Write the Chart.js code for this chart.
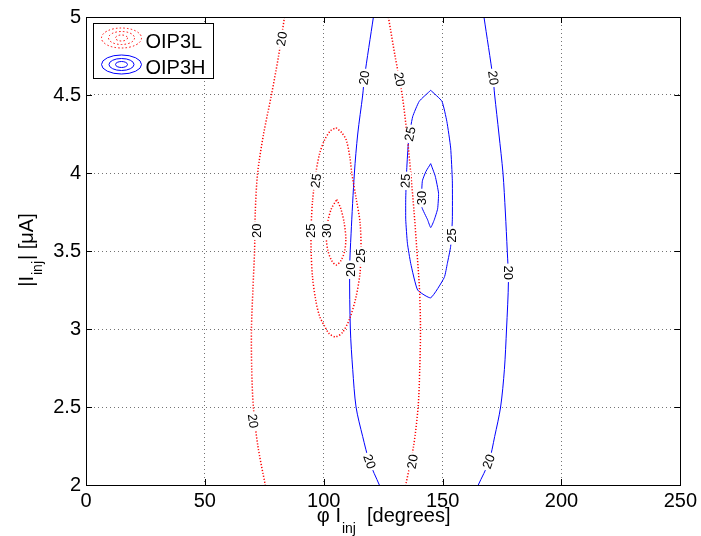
<!DOCTYPE html>
<html>
<head>
<meta charset="utf-8">
<script src="https://cdn.jsdelivr.net/npm/chart.js@4.4.0/dist/chart.umd.min.js"></script>
<style>
  html, body { margin: 0; padding: 0; background: #fff; }
  #wrap { width: 701px; height: 536px; }
</style>
</head>
<body>
<div id="wrap"><canvas id="chart" width="701" height="536"></canvas></div>
<script>
// axis ticks
const xTicks = [0, 50, 100, 150, 200, 250];
const xTickLabels = ['0', '50', '100', '150', '200', '250'];
const yTicks = [2, 2.5, 3, 3.5, 4, 4.5, 5];
const yTickLabels = ['2', '2.5', '3', '3.5', '4', '4.5', '5'];

// OIP3L contour lines, [phase, |Iinj|]
const oip3l20Left = [[83.5,5],[81,4.75],[78,4.5],[74.7,4.25],[72.2,4],[71.2,3.75],[70.9,3.5],[70.2,3.25],[69.6,3],[69.7,2.75],[70.4,2.5],[72.3,2.25],[75.4,2]];
const oip3l20Right = [[127.2,5],[130,4.75],[133,4.5],[135,4.25],[136.6,4],[138,3.75],[139.2,3.5],[140.3,3.25],[140.7,3],[140.4,2.75],[139.7,2.5],[137.8,2.25],[134.5,2]];
const oip3l25 = [[105.2,4.29],[107.5,4.26],[109.5,4.21],[111,4.1],[111.8,4],[113.6,3.84],[115.3,3.68],[115.7,3.5],[115.2,3.35],[113.5,3.2],[111,3.07],[108,2.98],[105,2.95],[102.3,2.97],[100.3,3.02],[98.3,3.08],[96.7,3.18],[95.3,3.33],[94.7,3.5],[94.7,3.65],[95.3,3.82],[96.7,4],[98.2,4.12],[100.3,4.21],[102.8,4.27],[105.2,4.29]];
const oip3l30 = [[105.5,3.83],[107.2,3.77],[108.6,3.68],[109.3,3.58],[108.8,3.5],[107.3,3.44],[105.2,3.41],[103.3,3.44],[101.8,3.5],[101.1,3.58],[101.6,3.68],[103.2,3.77],[105.5,3.83]];

// OIP3H contour lines
const oip3h20Left = [[120.9,5],[117.1,4.61],[116.4,4.5],[114.3,4.25],[112.9,4],[111.5,3.61],[110.9,3.38],[111.2,3],[112.2,2.74],[113.6,2.5],[116.4,2.31],[119.2,2.15],[123.4,2]];
const oip3h20Right = [[167.4,5],[171.2,4.61],[171.9,4.5],[173.7,4.25],[175.4,4],[176.4,3.75],[177.2,3.5],[177.7,3.31],[176.9,3],[176,2.74],[174.4,2.5],[171.9,2.31],[169.5,2.15],[165,2]];
const oip3h25 = [[145,4.53],[149.7,4.46],[151.8,4.33],[153.4,4.16],[154.1,3.95],[154.1,3.7],[153.4,3.53],[152,3.42],[150.7,3.33],[145,3.2],[139.5,3.25],[136.6,3.42],[135.2,3.55],[134.5,3.7],[134.5,3.84],[134.9,4.02],[135.7,4.21],[137.4,4.36],[140.2,4.46],[145,4.53]];
const oip3h30 = [[145,4.06],[146.9,3.98],[148.3,3.87],[147.9,3.77],[146.5,3.7],[145,3.65],[143.7,3.7],[141.3,3.78],[141.2,3.87],[141.5,3.95],[143,4.01],[145,4.06]];

// contour labels [phase, |Iinj|, level]
const oip3lLabels = [[82.4,4.86,20],[71.8,3.63,20],[70.2,2.41,20],[96.8,3.95,25],[94.7,3.63,25],[101.3,3.63,30],[115.7,3.47,25],[131.8,4.6,20],[137.4,2.15,20]];
const oip3lLabelAngles = [-80, -90, 82, -82, -90, -90, -90, 80, -80];
const oip3hLabels = [[117.1,4.61,20],[111.3,3.38,20],[119.2,2.15,20],[171.2,4.61,20],[177.7,3.36,20],[169.5,2.15,20],[136.4,4.25,25],[134.5,3.95,25],[154,3.6,25],[141.3,3.84,30]];
const oip3hLabelAngles = [-82, -90, 70, 82, 90, -70, -78, -88, -90, -90];

const FONT = '"Liberation Sans", Arial, Helvetica, sans-serif';
const RED = 'rgb(255,0,0)';
const BLUE = 'rgb(0,0,255)';

function contour(pts, color, dash, width, tension) {
    return {
        data: pts.map(p => ({ x: p[0], y: p[1] })),
        showLine: true,
        borderColor: color,
        borderWidth: width,
        borderDash: dash,
        pointRadius: 0,
        fill: false,
        tension: tension
    };
}

function drawLabels(chart, labels, angles) {
    const { ctx, scales: { x, y } } = chart;
    ctx.save();
    ctx.font = '13px ' + FONT;
    ctx.textAlign = 'center';
    ctx.textBaseline = 'middle';
    labels.forEach((l, i) => {
        const txt = String(l[2]);
        const w = ctx.measureText(txt).width;
        ctx.save();
        ctx.translate(x.getPixelForValue(l[0]), y.getPixelForValue(l[1]));
        ctx.rotate(angles[i] * Math.PI / 180);
        ctx.fillStyle = '#fff';
        ctx.fillRect(-w / 2 - 2, -5, w + 4, 10);
        ctx.fillStyle = '#000';
        ctx.fillText(txt, 0, 0.5);
        ctx.restore();
    });
    ctx.restore();
}

// Rótulos das curvas, caixa, ticks internos e legenda
const matlabLook = {
    id: 'matlabLook',
    afterDatasetsDraw(chart) {
        const { ctx, chartArea: a, scales: { x, y } } = chart;
        drawLabels(chart, oip3lLabels, oip3lLabelAngles);
        drawLabels(chart, oip3hLabels, oip3hLabelAngles);

        ctx.save();
        ctx.strokeStyle = '#000';
        ctx.lineWidth = 1;
        ctx.beginPath();
        xTicks.forEach(v => {
            const px = Math.round(x.getPixelForValue(v)) + 0.5;
            ctx.moveTo(px, a.bottom); ctx.lineTo(px, a.bottom - 6);
            ctx.moveTo(px, a.top); ctx.lineTo(px, a.top + 6);
        });
        yTicks.forEach(v => {
            const py = Math.round(y.getPixelForValue(v)) + 0.5;
            ctx.moveTo(a.left, py); ctx.lineTo(a.left + 6, py);
            ctx.moveTo(a.right, py); ctx.lineTo(a.right - 6, py);
        });
        ctx.stroke();
        ctx.strokeRect(Math.round(a.left) + 0.5, Math.round(a.top) + 0.5,
            Math.round(a.right - a.left), Math.round(a.bottom - a.top));

        // legenda
        const lx = a.left + 7.5, ly = a.top + 6.5;
        ctx.fillStyle = '#fff';
        ctx.fillRect(lx, ly, 120, 55);
        ctx.strokeRect(lx, ly, 120, 55);
        const cx = lx + 28;
        ctx.lineWidth = 1;
        ctx.strokeStyle = RED;
        ctx.setLineDash([1.5, 2.2]);
        [[20, 10], [13, 6.5], [6, 3]].forEach(r => {
            ctx.beginPath();
            ctx.ellipse(cx, ly + 14.5, r[0], r[1], 0, 0, Math.PI * 2);
            ctx.stroke();
        });
        ctx.setLineDash([]);
        ctx.strokeStyle = BLUE;
        [[20, 9.5], [12.5, 6], [6, 3]].forEach(r => {
            ctx.beginPath();
            ctx.ellipse(cx, ly + 41, r[0], r[1], 0, 0, Math.PI * 2);
            ctx.stroke();
        });
        ctx.fillStyle = '#000';
        ctx.font = '20px ' + FONT;
        ctx.textAlign = 'left';
        ctx.textBaseline = 'alphabetic';
        ctx.fillText('OIP3L', lx + 52, ly + 24);
        ctx.fillText('OIP3H', lx + 52, ly + 50.5);
        ctx.restore();
    },
    afterDraw(chart) {
        const { ctx, chartArea: a } = chart;
        ctx.save();
        ctx.fillStyle = '#000';
        ctx.textBaseline = 'alphabetic';
        ctx.textAlign = 'left';
        const big = '20px ' + FONT, small = '14px ' + FONT;

        // titulo do eixo x: φ I_inj  [degrees]
        ctx.font = big;
        const p1 = 'φ I', p3 = '  [degrees]';
        const w1 = ctx.measureText(p1).width, w3 = ctx.measureText(p3).width;
        ctx.font = small;
        const w2 = ctx.measureText('inj').width;
        let sx = (a.left + a.right) / 2 - (w1 + w2 + w3) / 2;
        ctx.font = big;
        ctx.fillText(p1, sx, 522);
        ctx.font = small;
        ctx.fillText('inj', sx + w1 + 1, 533);
        ctx.font = big;
        ctx.fillText(p3, sx + w1 + w2 + 1, 522);

        // titulo do eixo y: |I_inj| [μA]
        ctx.translate(33, (a.top + a.bottom) / 2);
        ctx.rotate(-Math.PI / 2);
        const q1 = '|I', q3 = '| [μA]';
        ctx.font = big;
        const v1 = ctx.measureText(q1).width, v3 = ctx.measureText(q3).width;
        ctx.font = small;
        const v2 = ctx.measureText('inj').width;
        sx = -(v1 + v2 + v3) / 2;
        ctx.font = big;
        ctx.fillText(q1, sx, 0);
        ctx.font = small;
        ctx.fillText('inj', sx + v1 + 1, 9);
        ctx.font = big;
        ctx.fillText(q3, sx + v1 + v2 + 2, 0);
        ctx.restore();
    }
};

const gridStyle = { color: 'rgba(0,0,0,0.55)', lineWidth: 1, drawTicks: false };
const borderStyle = { display: false, dash: [1, 3] };
const redDash = [1.2, 1.8];

new Chart(document.getElementById('chart'), {
    type: 'scatter',
    data: {
        datasets: [
            contour(oip3l20Left, RED, redDash, 1.5, 0.3),
            contour(oip3l20Right, RED, redDash, 1.5, 0.3),
            contour(oip3l25, RED, redDash, 1.5, 0.3),
            contour(oip3l30, RED, redDash, 1.5, 0.3),
            contour(oip3h20Left, BLUE, [], 1, 0.3),
            contour(oip3h20Right, BLUE, [], 1, 0.3),
            contour(oip3h25, BLUE, [], 1, 0.15),
            contour(oip3h30, BLUE, [], 1, 0.15)
        ]
    },
    options: {
        responsive: false,
        animation: false,
        devicePixelRatio: 1,
        layout: { padding: { left: 0, top: 16, right: 19, bottom: 0 } },
        plugins: { legend: { display: false }, tooltip: { enabled: false } },
        scales: {
            x: {
                type: 'linear', min: 0, max: 250,
                afterBuildTicks: s => { s.ticks = xTicks.map(v => ({ value: v })); },
                afterFit: s => { s.height = 51; },
                grid: gridStyle,
                border: borderStyle,
                ticks: {
                    color: '#000', padding: 4, maxRotation: 0,
                    font: { family: FONT, size: 20 },
                    callback: (v, i) => xTickLabels[i]
                }
            },
            y: {
                type: 'linear', min: 2, max: 5,
                afterBuildTicks: s => { s.ticks = yTicks.map(v => ({ value: v })); },
                afterFit: s => { s.width = 86; },
                grid: gridStyle,
                border: borderStyle,
                ticks: {
                    color: '#000', padding: 5,
                    font: { family: FONT, size: 20 },
                    callback: (v, i) => yTickLabels[i]
                }
            }
        }
    },
    plugins: [matlabLook]
});
</script>
</body>
</html>
